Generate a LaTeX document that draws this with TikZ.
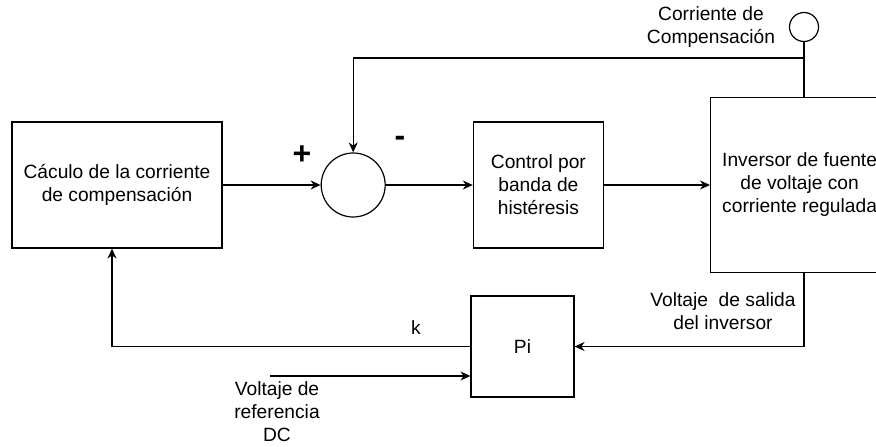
\documentclass[tikz,border=0pt]{standalone}
\usepackage{fontspec}
\setmainfont{Liberation Sans}
\usetikzlibrary{arrows.meta,positioning}
\newcommand{\lblfont}{\fontsize{19.2}{23}\selectfont}

\begin{document}
\begin{tikzpicture}[
x=1pt,y=-1pt,
node distance=90pt and 90pt,
blk/.style={rectangle,draw,line width=1.2pt,align=center,font=\lblfont,inner sep=2pt},
sumc/.style={circle,draw,line width=1.2pt,minimum size=64pt,inner sep=0pt},
arr/.style={-{Stealth[length=10pt,width=9pt]},line width=1.2pt},
ln/.style={line width=1.2pt},
lbl/.style={align=center,font=\lblfont},
sgn/.style={font=\bfseries\fontsize{32}{32}\selectfont}
]
\useasboundingbox (0,0) rectangle (876,447);
\clip (0,0) rectangle (876,447);

\node[blk,minimum width=210pt,minimum height=126pt] (calc) at (117,185) {C\'aculo de la corriente\\de compensaci\'on};
\node[sumc,right=98pt of calc] (sum) {};
\node[blk,minimum width=130pt,minimum height=126pt,right=87pt of sum] (hyst) {Control por\\banda de\\hist\'eresis};
\node[blk,minimum width=178pt,minimum height=175pt,right=106pt of hyst] (inv) {Inversor de fuente\\de voltaje con\\corriente regulada};
\node[blk,minimum width=103pt,minimum height=101pt] (pi) at (522.5,346.5) {Pi};
\node[circle,draw,line width=1.2pt,minimum size=29pt,inner sep=0pt] (out) at (804,27) {};

% etiquetas
\node[lbl] (outlbl) at (711,27) {Corriente de\\Compensaci\'on};
\node[lbl] (vlbl) at (723,311.5) {Voltaje \ de salida\\del inversor};
\node[lbl] (reflbl) at (277,412) {Voltaje de\\referencia\\DC};
\node[lbl] (klbl) at (416,328) {k};
\node[sgn] (plus) at (302,155) {+};
\node[sgn] (minus) at (400,141) {-};

\coordinate (tap) at (804,58);
\coordinate (ref) at (270,376);

% lazo directo
\draw[arr] (calc) -- (sum);
\draw[arr] (sum) -- (hyst);
\draw[arr] (hyst.east) -- (hyst.east -| inv.west);

% realimentacion
\draw[ln] (out.south) -- (out.south |- inv.north);
\draw[arr] (tap) -| (sum.north);
\draw[arr] (inv.south -| tap) |- (pi.east);
\draw[arr] (pi.west) -| ([xshift=-5pt]calc.south);
\draw[arr] (ref) -- (ref -| pi.west);
\end{tikzpicture}
\end{document}
